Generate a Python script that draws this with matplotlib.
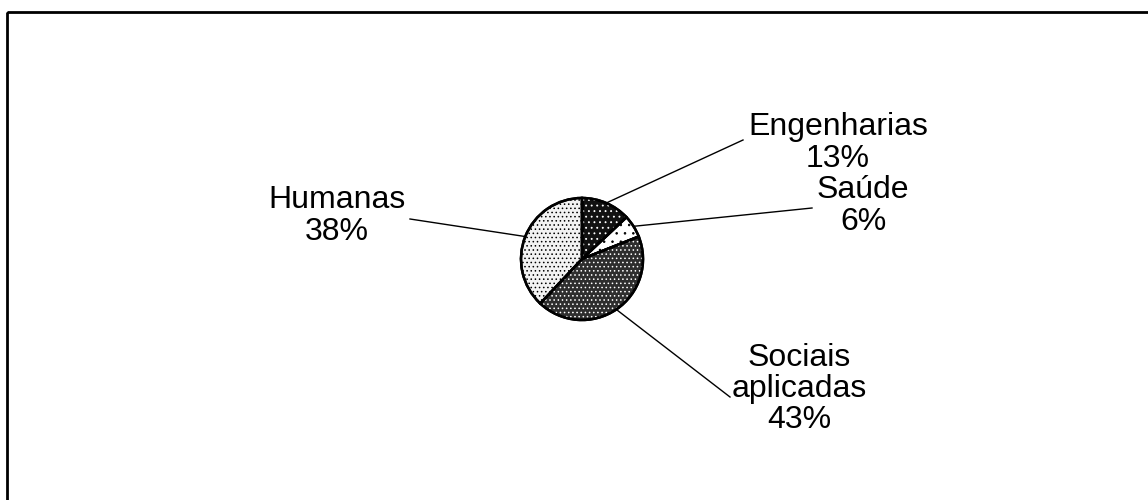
import numpy as np
import matplotlib.pyplot as plt
from matplotlib.patches import Rectangle, Wedge

plt.rcParams['font.family'] = ['Liberation Sans', 'DejaVu Sans']
plt.rcParams['hatch.linewidth'] = 0.6

areas = ['Engenharias', 'Saúde', 'Sociais\naplicadas', 'Humanas']
shares = [13, 6, 43, 38]
faces = ['#111111', '#ffffff', '#2e2e2e', '#f2f2f2']
dot_col = ['white', 'black', 'white', 'black']
hatches = ['...', '..', '....', '....']

# label anchor (pixel coords) and where the leader line ends
label_pos = [(838, 143), (863, 206), (799, 389), (337, 216)]
line_end = [(743, 140), (812, 208), (730, 397), (410, 219)]

fig = plt.figure(figsize=(11.48, 5), dpi=100)
ax = fig.add_axes([0, 0, 1, 1])

cx, cy, r = 582, 259, 61
# y axis gets inverted below, so start at -90 and go counterclockwise
wedges, _ = ax.pie(shares, center=(cx, cy), radius=r, startangle=-90,
                   counterclock=True, colors=faces,
                   wedgeprops=dict(edgecolor='black', linewidth=1.8))
for w, h, dc in zip(wedges, hatches, dot_col):
    over = Wedge((cx, cy), r, w.theta1, w.theta2, fill=False,
                 edgecolor=dc, lw=0, hatch=h)
    ax.add_patch(over)
    outline = Wedge((cx, cy), r, w.theta1, w.theta2, fill=False,
                    edgecolor='black', lw=1.8)
    ax.add_patch(outline)

ax.set_xlim(0, 1148)
ax.set_ylim(500, 0)
ax.set_aspect('equal')
ax.axis('off')

tot = sum(shares)
ang = 90
for i, (name, s) in enumerate(zip(areas, shares)):
    mid = np.deg2rad(ang - s / tot * 360 / 2)
    ang -= s / tot * 360
    sx = cx + r * np.cos(mid)
    sy = cy - r * np.sin(mid)
    ex, ey = line_end[i]
    ax.plot([sx, ex], [sy, ey], color='black', lw=1)
    ax.text(label_pos[i][0], label_pos[i][1], f'{name}\n{s}%', ha='center',
            va='center', fontsize=23, linespacing=1.05)

ax.add_patch(Rectangle((7, 12), 1160, 500, fill=False, edgecolor='black', lw=2))

fig.savefig('out.png', dpi=100)
